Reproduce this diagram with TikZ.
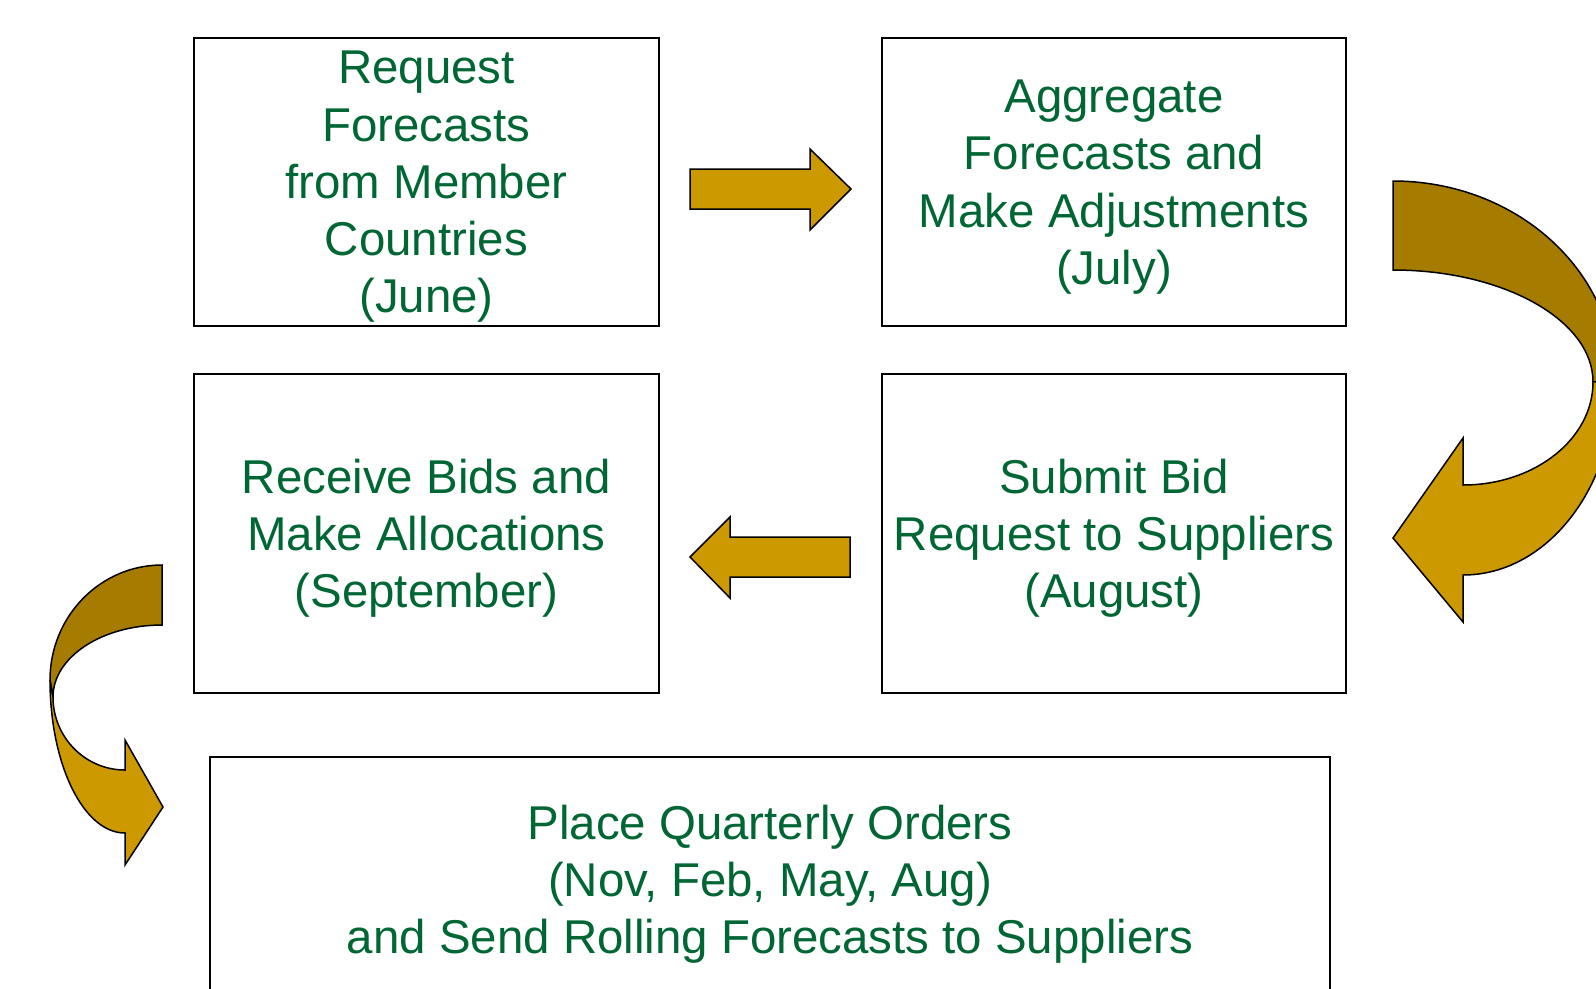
\documentclass[tikz,border=0pt]{standalone}
\usepackage{fontspec}
\setmainfont{Liberation Sans}
\usepackage{tikz}
\definecolor{boxgreen}{HTML}{006633}
\definecolor{arrowgold}{HTML}{CC9900}
\definecolor{arrowdark}{HTML}{A67C00}
\tikzset{
    stage/.style={
        draw,
        rectangle,
        line width=0.04cm,
        inner sep=0pt
    },
    stagetext/.style={
        text=boxgreen,
        align=center,
        inner sep=0pt,
        yshift=-0.1cm,
        font=\fontsize{27}{32.6}\selectfont
    },
    blockarrow/.style={
        draw,
        fill=arrowgold,
        line width=0.03cm,
        line join=miter
    }
}

\begin{document}
\begin{tikzpicture}[x=0.02cm, y=-0.02cm]
  \useasboundingbox (0,0) rectangle (1596,988);
  \clip (0,0) rectangle (1596,988);

  % Stages
  \node[stage, minimum width=9.3cm, minimum height=5.76cm,
        label={[stagetext]center:{Request\\Forecasts\\from Member\\Countries\\(June)}}] (request) at (426.5,182) {};
  \node[stage, minimum width=9.3cm, minimum height=5.76cm,
        label={[stagetext]center:{Aggregate\\Forecasts and\\Make Adjustments\\(July)}}] (aggregate) at (1114,182) {};
  \node[stage, minimum width=9.3cm, minimum height=6.39cm,
        label={[stagetext]center:{Receive Bids and\\Make Allocations\\(September)}}] (receive) at (426.5,533.4) {};
  \node[stage, minimum width=9.3cm, minimum height=6.39cm,
        label={[stagetext]center:{Submit Bid\\Request to Suppliers\\(August)}}] (submit) at (1114,533.4) {};
  \node[stage, minimum width=22.42cm, minimum height=4.88cm,
        label={[stagetext]center:{Place Quarterly Orders\\(Nov, Feb, May, Aug)\\and Send Rolling Forecasts to Suppliers}}] (place) at (770,879) {};

  % Straight arrows
  \draw[blockarrow] (690,169) -- (810,169) -- (810,149) -- (851,189) -- (810,230) -- (810,209) -- (690,209) -- cycle;
  \draw[blockarrow] (850,537) -- (730,537) -- (730,517) -- (690,557) -- (730,598) -- (730,577) -- (850,577) -- cycle;

  % Curved arrow on the right
  \draw[blockarrow, fill=arrowdark] (1393,181) arc[start angle=-90, end angle=0, x radius=222, y radius=199] -- (1593,382) arc[start angle=0, end angle=-90, x radius=200, y radius=112] -- cycle;
  \draw[blockarrow] (1615,380) arc[start angle=0, end angle=90, x radius=152, y radius=195] -- (1463,622) -- (1393,538) -- (1463,438) -- (1463,485) arc[start angle=90, end angle=0, x radius=130, y radius=103] -- cycle;

  % Curved arrow on the left
  \draw[blockarrow, fill=arrowdark] (162,565) arc[start angle=-90, end angle=-180, x radius=112, y radius=115] -- (53,697) arc[start angle=180, end angle=270, x radius=109, y radius=72] -- cycle;
  \draw[blockarrow] (50,680) arc[start angle=180, end angle=90, x radius=75, y radius=153] -- (125,865) -- (163,807) -- (125,740) -- (125,770) arc[start angle=90, end angle=180, x radius=72, y radius=73] -- cycle;
\end{tikzpicture}
\end{document}
